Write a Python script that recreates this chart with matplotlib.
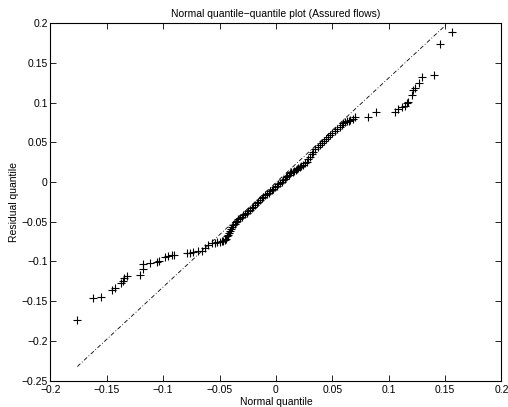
import matplotlib
matplotlib.use("Agg")
import matplotlib.pyplot as plt
from matplotlib.ticker import FixedLocator, FuncFormatter

# normal quantile vs sorted residual
lower_x = [-0.1762, -0.1620, -0.1555, -0.1452, -0.1428, -0.1377, -0.1360, -0.1345,
           -0.1324, -0.1206, -0.1182, -0.1177, -0.1117, -0.1053, -0.1035, -0.0982,
           -0.0955, -0.0925, -0.0902, -0.0792, -0.0763, -0.0733, -0.0689, -0.0659,
           -0.0630, -0.0600, -0.0570, -0.0541, -0.0520, -0.0497, -0.0480, -0.0467,
           -0.0455, -0.0443, -0.0432]
lower_y = [-0.1736, -0.1455, -0.1450, -0.1358, -0.1337, -0.1274, -0.1240, -0.1210,
           -0.1180, -0.1169, -0.1090, -0.1030, -0.1014, -0.1005, -0.0997, -0.0938,
           -0.0930, -0.0917, -0.0912, -0.0896, -0.0888, -0.0879, -0.0867, -0.0863,
           -0.0833, -0.0791, -0.0770, -0.0762, -0.0755, -0.0749, -0.0744, -0.0740,
           -0.0730, -0.0719, -0.0678]

mid_x = [-0.0425, -0.0414, -0.0406, -0.0399, -0.0390, -0.0379, -0.0367, -0.0355,
         -0.0345, -0.0334, -0.0320, -0.0304, -0.0290, -0.0275, -0.0260, -0.0246,
         -0.0230, -0.0215, -0.0200, -0.0185, -0.0170, -0.0156, -0.0141, -0.0127,
         -0.0112, -0.0096, -0.0080, -0.0066, -0.0052, -0.0038, -0.0024, -0.0010,
         0.0005, 0.0020, 0.0036, 0.0051, 0.0064, 0.0077, 0.0090, 0.0102,
         0.0113, 0.0124, 0.0136, 0.0148, 0.0160, 0.0173, 0.0185, 0.0198,
         0.0212, 0.0226, 0.0240, 0.0256, 0.0273, 0.0287, 0.0300, 0.0315,
         0.0331, 0.0350, 0.0370, 0.0388, 0.0406, 0.0423, 0.0440, 0.0460,
         0.0479, 0.0500, 0.0520, 0.0544, 0.0568, 0.0583, 0.0597, 0.0613,
         0.0630, 0.0644, 0.0657, 0.0680, 0.0701]
mid_y = [-0.0660, -0.0636, -0.0615, -0.0593, -0.0570, -0.0545, -0.0522, -0.0500,
         -0.0486, -0.0470, -0.0452, -0.0434, -0.0417, -0.0400, -0.0384, -0.0368,
         -0.0348, -0.0329, -0.0308, -0.0287, -0.0265, -0.0245, -0.0224, -0.0203,
         -0.0185, -0.0168, -0.0150, -0.0133, -0.0115, -0.0098, -0.0080, -0.0063,
         -0.0045, -0.0028, -0.0010, 0.0007, 0.0025, 0.0044, 0.0062, 0.0080,
         0.0096, 0.0112, 0.0123, 0.0134, 0.0145, 0.0155, 0.0165, 0.0175,
         0.0190, 0.0205, 0.0220, 0.0240, 0.0259, 0.0290, 0.0320, 0.0352,
         0.0385, 0.0412, 0.0440, 0.0465, 0.0490, 0.0518, 0.0545, 0.0570,
         0.0595, 0.0620, 0.0645, 0.0672, 0.0700, 0.0721, 0.0742, 0.0754,
         0.0765, 0.0775, 0.0784, 0.0800, 0.0818]

upper_x = [0.0819, 0.0887, 0.1056, 0.1085, 0.1115, 0.1144, 0.1159, 0.1174,
           0.1204, 0.1218, 0.1233, 0.1271, 0.1293, 0.1404, 0.1455, 0.1559]
upper_y = [0.0822, 0.0885, 0.0889, 0.0919, 0.0944, 0.0961, 0.0995, 0.1012,
           0.1100, 0.1162, 0.1183, 0.1246, 0.1330, 0.1351, 0.1742, 0.1889]

# reference line (through the quartiles), drawn over the data range
ref_x = [-0.1762, 0.1559]
ref_y = [-0.2324, 0.2050]

x_ticks = [-0.2, -0.15, -0.1, -0.05, 0, 0.05, 0.1, 0.15, 0.2]
y_ticks = [-0.25, -0.2, -0.15, -0.1, -0.05, 0, 0.05, 0.1, 0.15, 0.2]

plt.rcParams['font.family'] = ['Liberation Sans', 'DejaVu Sans']
plt.rcParams['font.size'] = 7.5

fig = plt.figure(figsize=(5.08, 4.07), dpi=100)
ax = fig.add_axes([0.0994, 0.0651, 0.8878, 0.8772])

xs = lower_x + mid_x + upper_x
ys = lower_y + mid_y + upper_y
ax.plot(xs, ys, '+', color='black', ms=5.5, mew=0.8)
ax.plot(ref_x, ref_y, color='black', ls=(0, (5, 2.5, 1, 2.5)), lw=0.6)

ax.set_xlim(-0.2, 0.2)
ax.set_ylim(-0.25, 0.2)
ax.xaxis.set_major_locator(FixedLocator(x_ticks))
ax.yaxis.set_major_locator(FixedLocator(y_ticks))
fmt = FuncFormatter(lambda v, p: ('%g' % round(v, 3)).replace('-', '\u2212'))
ax.xaxis.set_major_formatter(fmt)
ax.yaxis.set_major_formatter(fmt)
ax.tick_params(direction='in', length=4, width=0.6, top=True, right=True)
ax.tick_params(axis='x', pad=3.5)
ax.tick_params(axis='y', pad=2)
for s in ax.spines.values():
    s.set_linewidth(0.8)

ax.set_title('Normal quantile\u2212quantile plot (Assured flows)', fontsize=7.5, pad=5)
ax.set_xlabel('Normal quantile', labelpad=1.5)
ax.set_ylabel('Residual quantile', labelpad=2)

fig.savefig('out.png', dpi=100)
